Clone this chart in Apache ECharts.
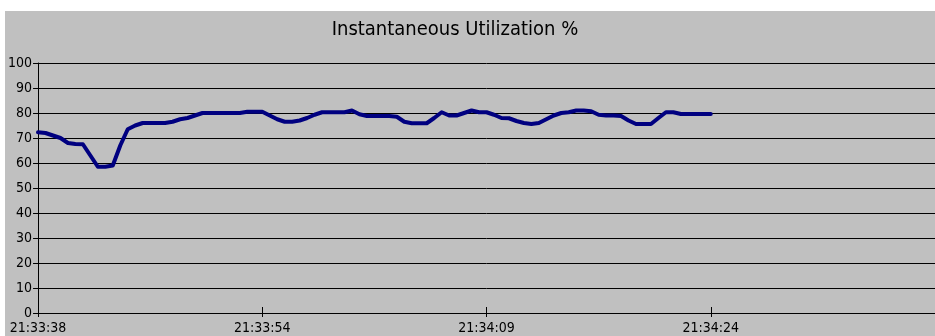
<!DOCTYPE html>
<html>
<head>
<meta charset="utf-8">
<script src="https://cdn.jsdelivr.net/npm/echarts@6/dist/echarts.min.js"></script>
<style>
  html, body { margin: 0; padding: 0; background: #ffffff; }
  #chart { position: absolute; left: 5px; top: 11px; width: 930px; height: 325px; }
</style>
</head>
<body>
<div id="chart"></div>
<script>
// Time labels shown under every 30th sample
const tickLabels = ['21:33:38', '21:33:54', '21:34:09', '21:34:24'];
const labelStep = 30;
const sampleCount = 121;

// Instantaneous utilization samples (%)
const utilization = [
  72.3, 72, 71, 70, 68, 67.6, 67.5, 63, 58.5, 58.5,
  59, 67, 73.5, 75, 76, 76, 76, 76, 76.5, 77.5,
  78, 79, 80, 80, 80, 80, 80, 80, 80.5, 80.5,
  80.5, 79, 77.5, 76.5, 76.5, 77, 78, 79.3, 80.3, 80.3,
  80.3, 80.3, 81, 79.5, 78.8, 78.8, 78.8, 78.8, 78.5, 76.5,
  75.9, 75.9, 75.9, 78, 80.3, 79, 79, 80, 81, 80.3,
  80.3, 79.3, 78, 77.9, 76.8, 76, 75.6, 76, 77.5, 79,
  80, 80.3, 81, 81, 80.7, 79.3, 79, 79, 78.8, 77,
  75.6, 75.6, 75.6, 78, 80.3, 80.3, 79.6, 79.6, 79.6, 79.6,
  79.6
];

const yTicks = { min: 0, max: 100, interval: 10 };

const samples = Array.from({ length: sampleCount }, (_, i) => i);

const labelFont = 'DejaVu Sans Condensed';
const gridBox = { left: 32, top: 52, width: 900, height: 250 };

// ticks only under the labelled samples, none at the far right edge
const isLabelled = (idx) => idx % labelStep === 0 && idx / labelStep < tickLabels.length;

const chart = echarts.init(document.getElementById('chart'), null, { renderer: 'canvas' });

chart.setOption({
  animation: false,
  backgroundColor: '#c0c0c0',
  graphic: [{
    type: 'text',
    x: 450,
    y: 19,
    style: {
      text: 'Instantaneous Utilization %',
      font: '20px "DejaVu Sans Condensed"',
      fill: '#000000',
      align: 'center',
      verticalAlign: 'middle',
      textAlign: 'center',
      textVerticalAlign: 'middle'
    }
  }],
  grid: Object.assign({ containLabel: false }, gridBox),
  xAxis: [{
    type: 'category',
    data: samples,
    boundaryGap: false,
    axisLine: { show: true, lineStyle: { color: '#000000', width: 1 } },
    axisTick: { show: true, interval: isLabelled, length: 4, lineStyle: { color: '#000000' } },
    axisLabel: {
      interval: isLabelled,
      margin: 8,
      color: '#000000',
      fontFamily: labelFont,
      fontSize: 14,
      formatter: (v, idx) => (isLabelled(idx) ? tickLabels[idx / labelStep] : '')
    },
    splitLine: { show: false }
  }, {
    type: 'category',
    data: samples,
    boundaryGap: false,
    position: 'bottom',
    axisLine: { show: false },
    axisTick: { show: true, inside: true, interval: isLabelled, length: 6, lineStyle: { color: '#000000' } },
    axisLabel: { show: false },
    splitLine: { show: false }
  }],
  yAxis: {
    type: 'value',
    min: yTicks.min,
    max: yTicks.max,
    interval: yTicks.interval,
    axisLine: { show: true, lineStyle: { color: '#000000', width: 1 } },
    axisTick: { show: true, length: 5, lineStyle: { color: '#000000' } },
    axisLabel: {
      margin: 6,
      color: '#000000',
      fontFamily: labelFont,
      fontSize: 14
    },
    splitLine: { show: true, lineStyle: { color: '#000000', width: 1 } }
  },
  series: [{
    type: 'line',
    data: utilization,
    xAxisIndex: 0,
    showSymbol: false,
    smooth: false,
    lineStyle: { color: '#000080', width: 4, join: 'round', cap: 'round' },
    z: 5
  }]
});
</script>
</body>
</html>
